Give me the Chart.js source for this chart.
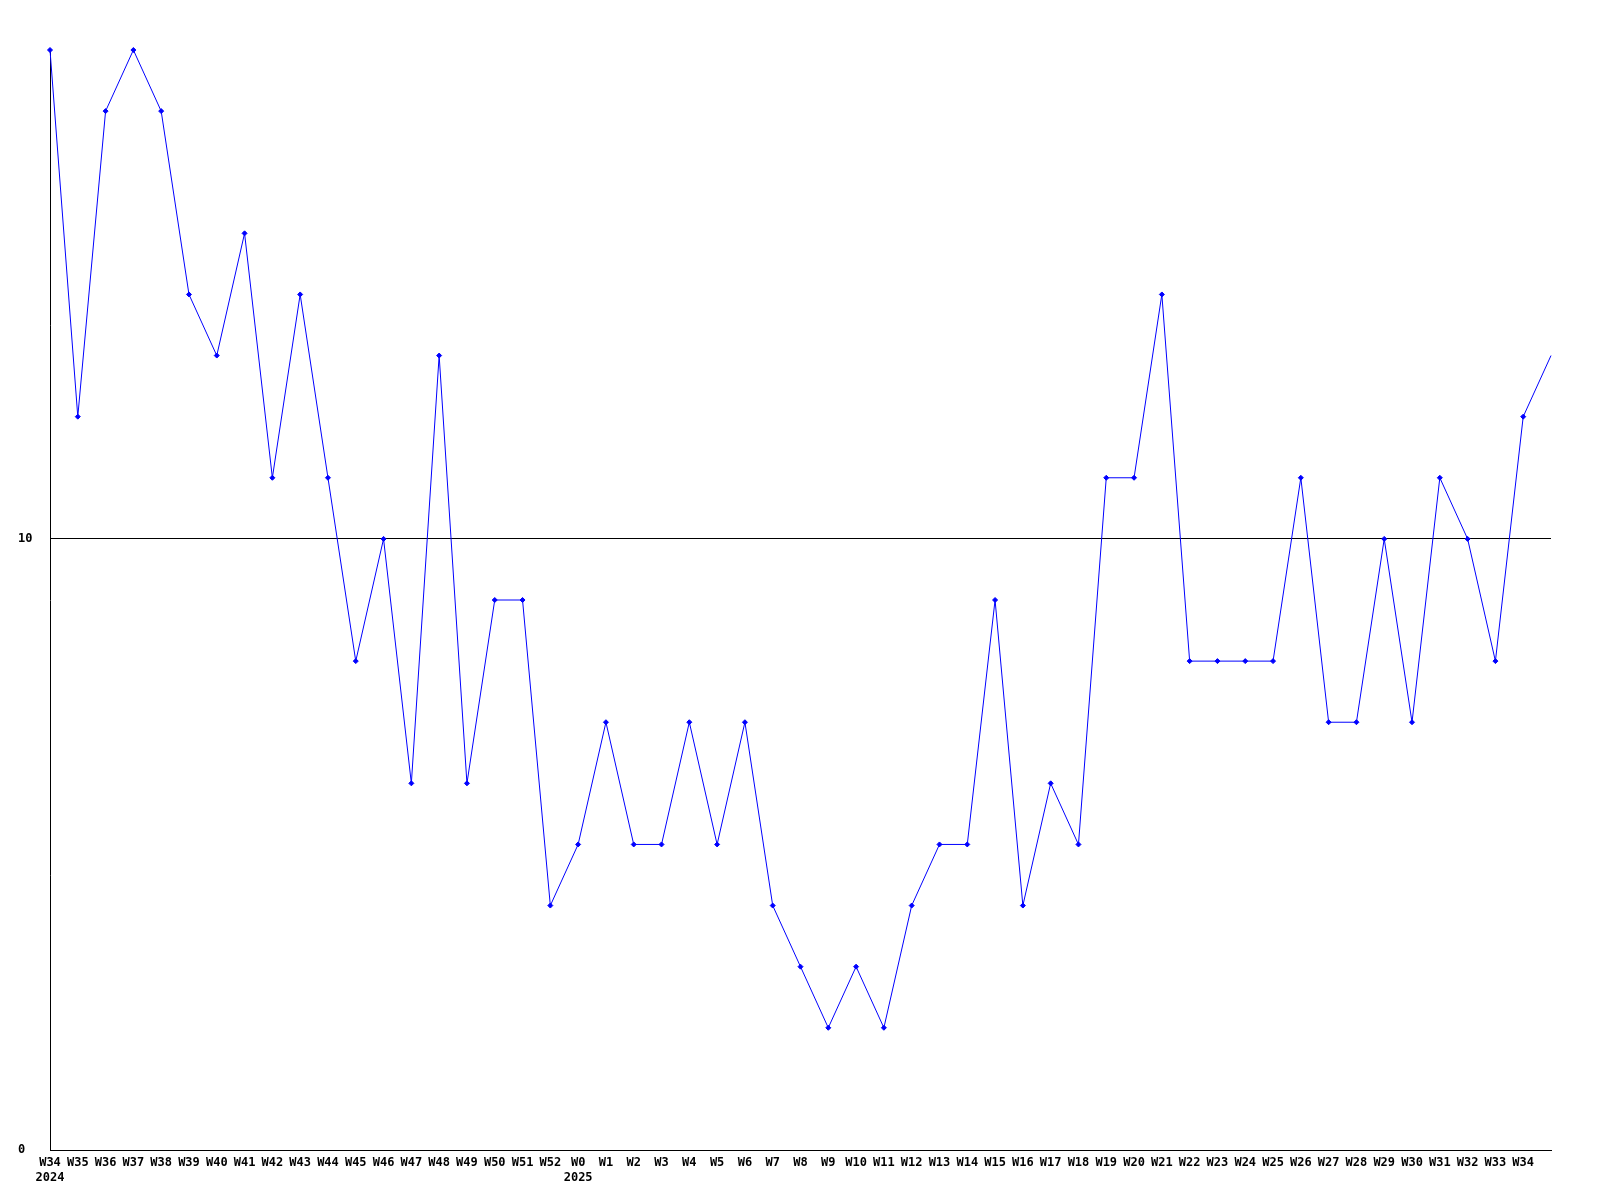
<!DOCTYPE html>
<html>
<head>
<meta charset="utf-8">
<style>
  html, body { margin: 0; padding: 0; background: #fff; }
  #wrap { width: 1600px; height: 1200px; }
</style>
<script src="https://cdn.jsdelivr.net/npm/chart.js@4/dist/chart.umd.min.js"></script>
</head>
<body>
<div id="wrap"><canvas id="myChart" width="1600" height="1200"></canvas></div>
<script>
const weeks = [
  "W34", "W35", "W36", "W37", "W38", "W39", "W40", "W41", "W42", "W43",
  "W44", "W45", "W46", "W47", "W48", "W49", "W50", "W51", "W52",
  "W0", "W1", "W2", "W3", "W4", "W5", "W6", "W7", "W8", "W9", "W10",
  "W11", "W12", "W13", "W14", "W15", "W16", "W17", "W18", "W19", "W20",
  "W21", "W22", "W23", "W24", "W25", "W26", "W27", "W28", "W29", "W30",
  "W31", "W32", "W33", "W34", ""
];
const years = { 0: "2024", 19: "2025" };
const values = [
  18, 12, 17, 18, 17, 14, 13, 15, 11, 14,
  11, 8, 10, 6, 13, 6, 9, 9, 4,
  5, 7, 5, 5, 7, 5, 7, 4, 3, 2, 3,
  2, 4, 5, 5, 9, 4, 6, 5, 11, 11,
  14, 8, 8, 8, 8, 11, 7, 7, 10, 7,
  11, 10, 8, 12, 13
];
const yTicks = [0, 10];

const labels = weeks.map((w, i) => (years[i] ? [w, years[i]] : w));
const lastIdx = values.length - 1;
const font = { family: "DejaVu Sans Mono", size: 12, weight: "bold", lineHeight: 1.25 };

const ctx = document.getElementById("myChart").getContext("2d");
new Chart(ctx, {
  type: "line",
  data: {
    labels: labels,
    datasets: [
      {
        data: values,
        borderColor: "#0000ff",
        backgroundColor: "#0000ff",
        borderWidth: 1,
        pointStyle: "rectRot",
        pointRadius: (c) => (c.dataIndex === lastIdx ? 0 : 2.5),
        pointBorderWidth: 1,
        tension: 0,
        fill: false,
        clip: false,
      },
    ],
  },
  options: {
    responsive: false,
    animation: false,
    events: [],
    layout: { padding: { top: 50, right: 49, left: 18, bottom: 0 } },
    plugins: { legend: { display: false }, tooltip: { enabled: false } },
    scales: {
      x: {
        offset: false,
        grid: { display: false, drawTicks: false },
        border: { color: "#000", width: 1 },
        ticks: {
          color: "#000",
          font: font,
          autoSkip: false,
          maxRotation: 0,
          padding: 5,
        },
        afterFit: (s) => { s.height = 50; },
      },
      y: {
        min: 0,
        max: 18,
        afterBuildTicks: (s) => { s.ticks = yTicks.map((v) => ({ value: v })); },
        grid: { color: "#000", lineWidth: 1, drawTicks: false },
        border: { color: "#000", width: 1 },
        ticks: { color: "#000", font: font, crossAlign: "far", padding: 0 },
        afterFit: (s) => { s.width = 32; },
      },
    },
  },
});
</script>
</body>
</html>
